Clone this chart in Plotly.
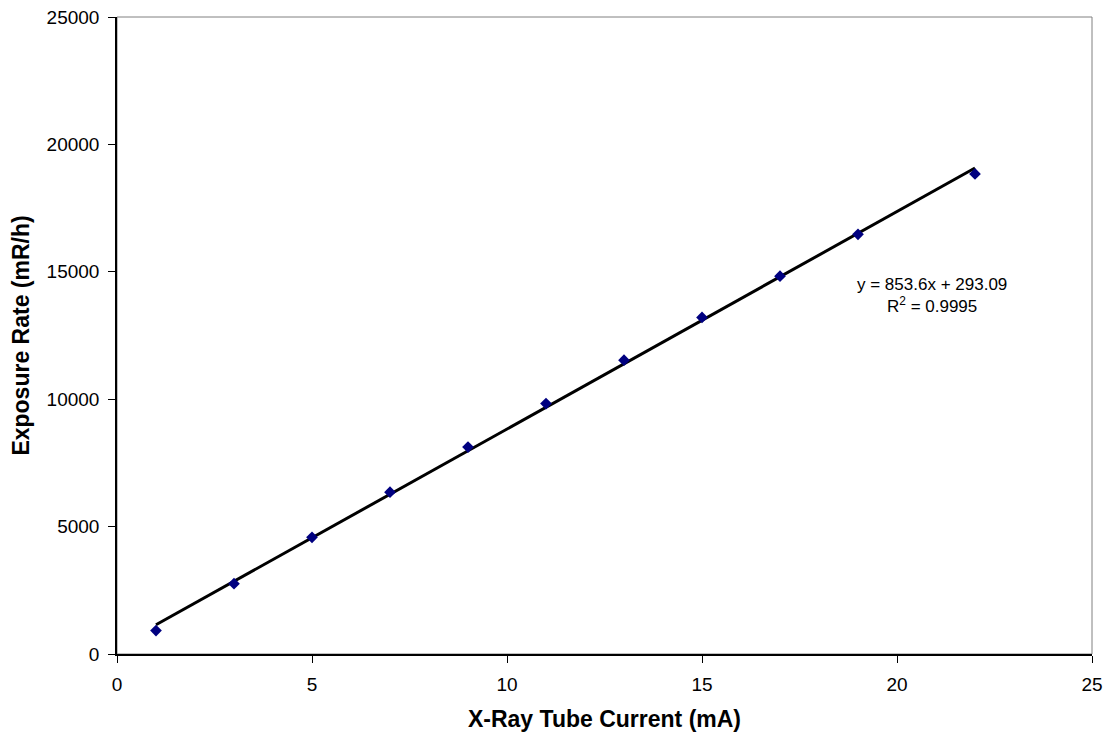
import plotly.graph_objects as go

current_ma = [1, 3, 5, 7, 9, 11, 13, 15, 17, 19, 22]
exposure_rate = [920, 2760, 4580, 6350, 8120, 9830, 11530, 13210, 14830, 16470, 18840]

slope = 853.6
intercept = 293.09
r_squared = 0.9995

x_ticks = [0, 5, 10, 15, 20, 25]
y_ticks = [0, 5000, 10000, 15000, 20000, 25000]

fit_x = [min(current_ma), max(current_ma)]
fit_y = [slope * v + intercept for v in fit_x]

FONT = "Liberation Sans, Arial, sans-serif"

fig = go.Figure()
fig.add_trace(go.Scatter(
    x=fit_x, y=fit_y, mode="lines",
    line=dict(color="black", width=3), hoverinfo="skip", showlegend=False,
))
fig.add_trace(go.Scatter(
    x=current_ma, y=exposure_rate, mode="markers",
    marker=dict(symbol="diamond", color="#000080", size=9, line=dict(width=0)),
    showlegend=False,
))

fig.add_shape(type="rect", xref="paper", yref="paper", x0=0, y0=0, x1=1, y1=1,
              line=dict(color="#808080", width=1), layer="below")

fig.add_annotation(
    x=20.9, y=14070, xref="x", yref="y",
    text=f"y = {slope}x + {intercept}<br>R<sup>2</sup> = {r_squared}",
    showarrow=False, align="center",
    font=dict(family=FONT, size=17, color="black"),
)

fig.update_layout(
    width=1112, height=738,
    margin=dict(l=117, r=20, t=17, b=84, autoexpand=False),
    paper_bgcolor="white", plot_bgcolor="white",
    font=dict(family=FONT, color="black"),
    showlegend=False,
)
fig.update_xaxes(
    range=[0, 25], tickvals=x_ticks, ticktext=[str(v) for v in x_ticks],
    showgrid=False, zeroline=False, automargin=False,
    showline=True, linecolor="black", linewidth=1.5,
    ticks="outside", ticklen=7, tickcolor="black", tickwidth=1,
    ticklabelstandoff=5,
    tickfont=dict(family=FONT, size=19, color="black"),
    title=dict(text="<b>X-Ray Tube Current (mA)</b>", font=dict(family=FONT, size=23, color="black"), standoff=17),
)
fig.update_yaxes(
    range=[0, 25000], tickvals=y_ticks, ticktext=[str(v) for v in y_ticks],
    showgrid=False, zeroline=False, automargin=False,
    showline=True, linecolor="black", linewidth=1.5,
    ticks="outside", ticklen=7, tickcolor="black", tickwidth=1,
    ticklabelstandoff=5,
    tickfont=dict(family=FONT, size=19, color="black"),
    title=dict(text="<b>Exposure Rate (mR/h)</b>", font=dict(family=FONT, size=23, color="black"), standoff=11),
)

fig.write_html("out.html")
